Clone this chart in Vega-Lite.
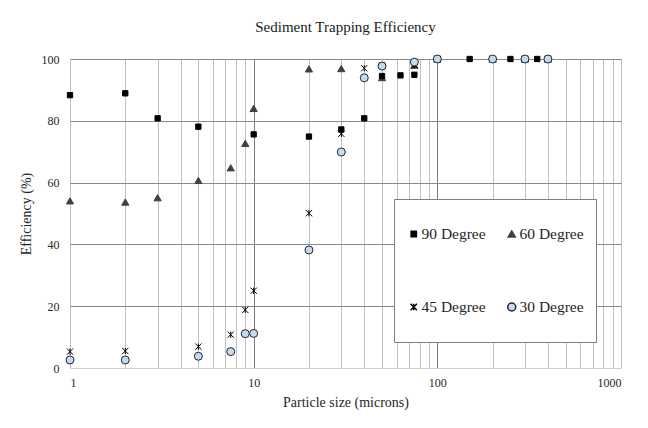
{
  "$schema": "https://vega.github.io/schema/vega-lite/v6.json",
  "autosize": "none",
  "width": 551,
  "height": 309,
  "padding": {"left": 70, "top": 59, "right": 27, "bottom": 60},
  "background": "white",
  "title": {"text": "Sediment Trapping Efficiency", "font": "Liberation Serif", "fontSize": 15, "fontWeight": "normal", "color": "#1a1a1a", "anchor": "middle", "offset": 18},
  "config": {
    "view": {"stroke": null},
    "axis": {"labelFont": "Liberation Serif", "labelFontSize": 12, "labelColor": "#262626", "titleFont": "Liberation Serif", "titleFontSize": 14, "titleFontWeight": "normal", "titleColor": "#262626", "ticks": false},
    "legend": {"labelFont": "Liberation Serif", "labelFontSize": 15.5, "labelColor": "#262626"}
  },
  "data": {"values": [
    {"series": "60 Degree", "size": 1, "eff": 54.1},
    {"series": "60 Degree", "size": 2, "eff": 53.7},
    {"series": "60 Degree", "size": 3, "eff": 55.1},
    {"series": "60 Degree", "size": 5, "eff": 60.7},
    {"series": "60 Degree", "size": 7.5, "eff": 64.8},
    {"series": "60 Degree", "size": 9, "eff": 72.7},
    {"series": "60 Degree", "size": 10, "eff": 84.0},
    {"series": "60 Degree", "size": 20, "eff": 96.8},
    {"series": "60 Degree", "size": 30, "eff": 96.9},
    {"series": "60 Degree", "size": 50, "eff": 94.0},
    {"series": "60 Degree", "size": 75, "eff": 98.0},
    {"series": "60 Degree", "size": 100, "eff": 100},
    {"series": "60 Degree", "size": 200, "eff": 100},
    {"series": "60 Degree", "size": 300, "eff": 100},
    {"series": "60 Degree", "size": 400, "eff": 100},
    {"series": "45 Degree", "size": 1, "eff": 5.3},
    {"series": "45 Degree", "size": 2, "eff": 5.5},
    {"series": "45 Degree", "size": 5, "eff": 6.9},
    {"series": "45 Degree", "size": 7.5, "eff": 10.8},
    {"series": "45 Degree", "size": 9, "eff": 18.8},
    {"series": "45 Degree", "size": 10, "eff": 25.0},
    {"series": "45 Degree", "size": 20, "eff": 50.1},
    {"series": "45 Degree", "size": 30, "eff": 75.8},
    {"series": "45 Degree", "size": 40, "eff": 97.0},
    {"series": "45 Degree", "size": 50, "eff": 98.0},
    {"series": "45 Degree", "size": 75, "eff": 98.0},
    {"series": "45 Degree", "size": 100, "eff": 100},
    {"series": "45 Degree", "size": 200, "eff": 100},
    {"series": "45 Degree", "size": 300, "eff": 100},
    {"series": "45 Degree", "size": 400, "eff": 100},
    {"series": "90 Degree", "size": 1, "eff": 88.3},
    {"series": "90 Degree", "size": 2, "eff": 88.9},
    {"series": "90 Degree", "size": 3, "eff": 80.8},
    {"series": "90 Degree", "size": 5, "eff": 78.1},
    {"series": "90 Degree", "size": 10, "eff": 75.6},
    {"series": "90 Degree", "size": 20, "eff": 74.9},
    {"series": "90 Degree", "size": 30, "eff": 77.2},
    {"series": "90 Degree", "size": 40, "eff": 80.8},
    {"series": "90 Degree", "size": 50, "eff": 94.5},
    {"series": "90 Degree", "size": 63, "eff": 94.7},
    {"series": "90 Degree", "size": 75, "eff": 94.9},
    {"series": "90 Degree", "size": 100, "eff": 100},
    {"series": "90 Degree", "size": 150, "eff": 100},
    {"series": "90 Degree", "size": 250, "eff": 100},
    {"series": "90 Degree", "size": 350, "eff": 100},
    {"series": "30 Degree", "size": 1, "eff": 2.6},
    {"series": "30 Degree", "size": 2, "eff": 2.6},
    {"series": "30 Degree", "size": 5, "eff": 3.8},
    {"series": "30 Degree", "size": 7.5, "eff": 5.3},
    {"series": "30 Degree", "size": 9, "eff": 11.1},
    {"series": "30 Degree", "size": 10, "eff": 11.2},
    {"series": "30 Degree", "size": 20, "eff": 38.2},
    {"series": "30 Degree", "size": 30, "eff": 69.9},
    {"series": "30 Degree", "size": 40, "eff": 93.9},
    {"series": "30 Degree", "size": 50, "eff": 97.7},
    {"series": "30 Degree", "size": 75, "eff": 99.0},
    {"series": "30 Degree", "size": 100, "eff": 100},
    {"series": "30 Degree", "size": 200, "eff": 100},
    {"series": "30 Degree", "size": 300, "eff": 100},
    {"series": "30 Degree", "size": 400, "eff": 100}
  ]},
  "mark": {"type": "point", "filled": true, "opacity": 1, "strokeWidth": 1},
  "encoding": {
    "x": {
      "field": "size", "type": "quantitative",
      "scale": {"type": "log", "domain": [1, 1000], "nice": false},
      "axis": {
        "title": "Particle size (microns)",
        "values": [1,2,3,4,5,6,7,8,9,10,20,30,40,50,60,70,80,90,100,200,300,400,500,600,700,800,900,1000],
        "labelExpr": "(datum.value==1||datum.value==10||datum.value==100||datum.value==1000) ? format(datum.value,'d') : ''",
        "labelPadding": 9,
        "titlePadding": 7,
        "grid": true,
        "gridColor": {"condition": {"test": "datum.value==10||datum.value==100", "value": "#7a7a7a"}, "value": "#c0c0c0"},
        "gridWidth": 1,
        "domainColor": "#d0d0d0",
        "labelOverlap": false
      }
    },
    "y": {
      "field": "eff", "type": "quantitative",
      "scale": {"domain": [0, 100], "nice": false},
      "axis": {
        "title": "Efficiency (%)",
        "values": [0, 20, 40, 60, 80, 100],
        "domain": false,
        "labelPadding": 11,
        "titlePadding": 8,
        "grid": true,
        "gridColor": {"condition": {"test": "datum.value==0", "value": "#d0d0d0"}, "value": "#8a8a8a"}
      }
    },
    "shape": {
      "field": "series", "type": "nominal",
      "scale": {"domain": ["90 Degree", "45 Degree", "60 Degree", "30 Degree"], "range": ["square", "M-1,-1L1,1M-1,1L1,-1M0,-1L0,1", "triangle-up", "circle"]},
      "legend": {
        "title": null, "orient": "none", "legendX": 324, "legendY": 140,
        "columns": 2, "columnPadding": 18, "rowPadding": 27, "clipHeight": 46,
        "padding": 12, "strokeColor": "#7f7f7f", "fillColor": "white",
        "labelOffset": 0
      }
    },
    "fill": {
      "field": "series", "type": "nominal",
      "scale": {"domain": ["90 Degree", "45 Degree", "60 Degree", "30 Degree"], "range": ["#000000", "#000000", "#404040", "#c5d9f1"]}
    },
    "stroke": {
      "field": "series", "type": "nominal",
      "scale": {"domain": ["90 Degree", "45 Degree", "60 Degree", "30 Degree"], "range": ["#000000", "#000000", "#404040", "#262626"]}
    },
    "size": {
      "field": "series", "type": "nominal",
      "scale": {"domain": ["90 Degree", "45 Degree", "60 Degree", "30 Degree"], "range": [28, 64, 64, 64]}
    }
  }
}
